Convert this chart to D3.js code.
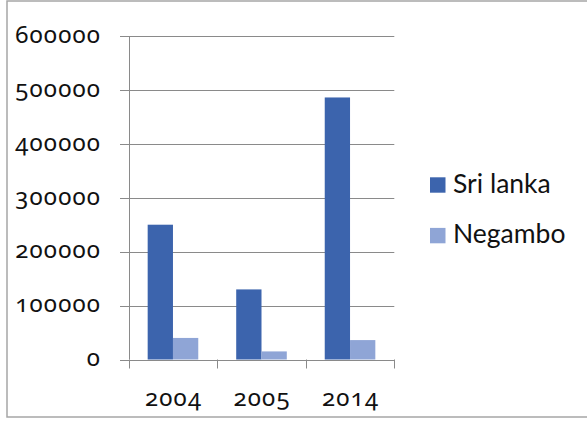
<!DOCTYPE html>
<html><head><meta charset="utf-8">
<script src="https://cdn.jsdelivr.net/npm/d3@7"></script>
<style>
html,body{margin:0;padding:0;background:#fff;}
svg{display:block;}
.tick-label{font-family:"Noto Sans",sans-serif;font-variant-numeric:oldstyle-nums;font-feature-settings:"onum" 1;fill:#111;}
.legend-label{font-family:"Lato","Open Sans",sans-serif;fill:#111;}
</style>
</head><body>
<svg id="chart" width="587" height="421"></svg>
<script>
const categories = ["2004", "2005", "2014"];
const seriesNames = ["Sri lanka", "Negambo"];
const sriLanka = [250000, 130000, 486000];
const negambo = [40000, 15000, 36000];
const yTicks = [0, 100000, 200000, 300000, 400000, 500000, 600000];
const colors = ["#3C64AD", "#8FA5D6"];

const svg = d3.select("#chart");
const W = 587, H = 421;

svg.append("rect").attr("x", 7).attr("y", 1).attr("width", W + 10).attr("height", 416)
  .attr("fill", "#fff").attr("stroke", "#a6a6a6").attr("stroke-width", 1.5);

const plot = {left: 128.7, right: 394.3, top: 36, bottom: 359.5};
const y = d3.scaleLinear().domain([0, 600000]).range([plot.bottom, plot.top]);
const x0 = d3.scaleBand().domain(categories).range([plot.left, plot.right]).paddingInner(0).paddingOuter(0);
const groupW = x0.bandwidth() * 2 / 3.5;
const x1 = d3.scaleBand().domain(seriesNames).range([0, groupW]).padding(0);

svg.append("g").selectAll("line").data(yTicks).join("line")
  .attr("x1", plot.left - 8.7).attr("x2", plot.right)
  .attr("y1", d => Math.round(y(d)) + 0.5).attr("y2", d => Math.round(y(d)) + 0.5)
  .attr("stroke", "#8a8a8a").attr("stroke-width", 1);

svg.append("line").attr("x1", Math.round(plot.left) + 0.5).attr("x2", Math.round(plot.left) + 0.5)
  .attr("y1", plot.top).attr("y2", plot.bottom).attr("stroke", "#8a8a8a");

const tickXs = [plot.left].concat(categories.map(c => x0(c) + x0.bandwidth()));
svg.append("g").selectAll("line").data(tickXs).join("line")
  .attr("x1", d => Math.round(d) + 0.5).attr("x2", d => Math.round(d) + 0.5)
  .attr("y1", plot.bottom).attr("y2", plot.bottom + 9)
  .attr("stroke", "#8a8a8a");

const data = categories.map((c, i) => ({cat: c, values: [sriLanka[i], negambo[i]]}));
const groups = svg.append("g").selectAll("g").data(data).join("g")
  .attr("transform", d => `translate(${x0(d.cat) + (x0.bandwidth() - groupW) / 2},0)`);
groups.selectAll("rect").data(d => d.values.map((v, j) => ({name: seriesNames[j], v, j}))).join("rect")
  .attr("x", d => x1(d.name)).attr("width", x1.bandwidth())
  .attr("y", d => y(d.v)).attr("height", d => y(0) - y(d.v))
  .attr("fill", d => colors[d.j]);

const ls = 1.2;
svg.append("g").selectAll("text").data(yTicks).join("text")
  .attr("class", "tick-label")
  .attr("x", 100 + ls).attr("y", d => y(d) + 6.8)
  .attr("text-anchor", "end").attr("font-size", 24).attr("letter-spacing", ls)
  .text(d => d3.format("d")(d));

svg.append("g").selectAll("text").data(categories).join("text")
  .attr("class", "tick-label")
  .attr("x", d => x0(d) + x0.bandwidth() / 2 + ls / 2).attr("y", 405.5)
  .attr("text-anchor", "middle").attr("font-size", 24).attr("letter-spacing", ls)
  .text(d => d);

const leg = svg.append("g").selectAll("g").data(seriesNames).join("g")
  .attr("transform", (d, i) => `translate(430,${192.7 + i * 50.6})`);
leg.append("rect").attr("x", 0).attr("y", -15.4).attr("width", 15.5).attr("height", 15.4)
  .attr("fill", (d, i) => colors[i]);
leg.append("text").attr("class", "legend-label").attr("x", 23).attr("y", 0)
  .attr("font-size", 26.5).text(d => d);
</script>
</body></html>
